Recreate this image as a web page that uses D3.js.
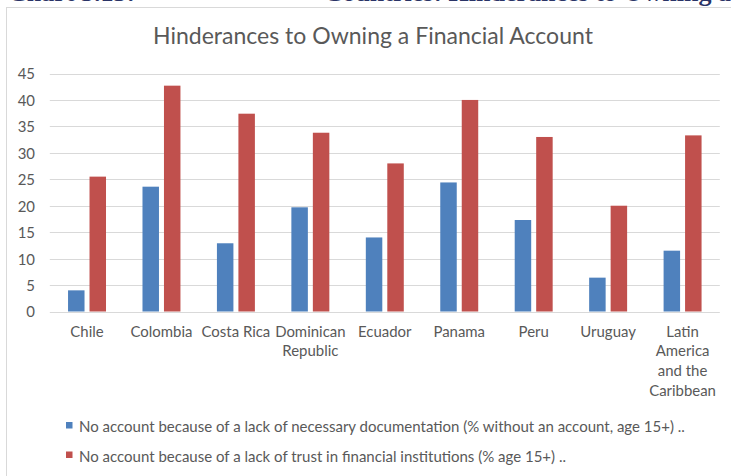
<!DOCTYPE html>
<html><head><meta charset="utf-8">
<script src="https://cdn.jsdelivr.net/npm/d3@7/dist/d3.min.js"></script>
<style>html,body{margin:0;padding:0;background:#fff;overflow:hidden}</style>
</head><body><svg id="c" width="731" height="476"></svg>
<script>
const categories = ["Chile","Colombia","Costa Rica","Dominican Republic","Ecuador","Panama","Peru","Uruguay","Latin America and the Caribbean"];
const tickLabels = [["Chile"],["Colombia"],["Costa Rica"],["Dominican","Republic"],["Ecuador"],["Panama"],["Peru"],["Uruguay"],["Latin","America","and the","Caribbean"]];
const seriesNames = [
  "No account because of a lack of necessary documentation (% without an account, age 15+) ..",
  "No account because of a lack of trust in financial institutions (% age 15+) .."
];
const documentation = [4.0, 23.6, 12.9, 19.7, 14.0, 24.4, 17.3, 6.4, 11.5];
const trust = [25.5, 42.7, 37.4, 33.8, 28.0, 40.0, 33.0, 20.0, 33.3];
const yTicks = [0,5,10,15,20,25,30,35,40,45];
const colors = ["#4f81bd","#c0504d"];
const chartTitle = "Hinderances to Owning a Financial Account";
const headerA = "Chart 3.13:";
const headerB = "Countries: Hinderances to Owning a Financial Account";

const svg = d3.select("#c");
const FONT = "Lato, 'Open Sans', sans-serif";
const TXT = "#595959";

function fitSize(text, target, base) {
  const t = svg.append("text").attr("font-family", FONT).attr("font-size", base).text(text);
  const w = t.node().getComputedTextLength();
  t.remove();
  return base * target / w;
}

// cut-off header from the page above (only its lowest pixels show)
svg.append("text").attr("x", 8).attr("y", 1.2)
  .attr("font-family", "'Liberation Serif', serif").attr("font-weight", "bold")
  .attr("font-size", 26).attr("fill", "#2a3366").text(headerA);
const hB = svg.append("text").attr("x", 290).attr("y", 1.2)
  .attr("font-family", "'Liberation Serif', serif").attr("font-weight", "bold")
  .attr("font-size", 26).attr("fill", "#2a3366").text(headerB);
const gi = headerB.indexOf("Owning") + 4;
const gx = hB.node().getStartPositionOfChar(gi).x;
hB.attr("x", 290 + (684 - gx));

// chart area border
svg.append("rect").attr("x", 6.5).attr("y", 7.5).attr("width", 800).attr("height", 600)
  .attr("fill", "none").attr("stroke", "#d9d9d9");

const x0 = 49.8, x1 = 719.8, yBottom = 311.5, yTop = 73.5;
const x = d3.scaleBand().domain(categories).range([x0, x1]).paddingInner(0.49).paddingOuter(0.245);
const xs = d3.scaleBand().domain([0,1]).range([0, x.bandwidth()]).paddingInner(0.2326).paddingOuter(0);
const y = d3.scaleLinear().domain([0, 45]).range([yBottom, yTop]);

// title
const titleSize = fitSize(chartTitle, 440, 22);
svg.append("text").attr("x", 373).attr("y", 44).attr("text-anchor", "middle")
  .attr("font-family", FONT).attr("font-size", titleSize).attr("fill", TXT).text(chartTitle);

// gridlines
svg.append("g").selectAll("line").data(yTicks).join("line")
  .attr("x1", x0).attr("x2", x1)
  .attr("y1", d => Math.round(y(d)) + 0.5).attr("y2", d => Math.round(y(d)) + 0.5)
  .attr("stroke", "#d9d9d9").attr("stroke-width", 1);

// y axis labels
const labSize = fitSize("Colombia", 62, 16);
const yAxis = d3.axisLeft(y).tickValues(yTicks).tickSize(0).tickPadding(0);
const gy = svg.append("g").attr("transform", "translate(35,0)").call(yAxis);
gy.select(".domain").remove();
gy.selectAll("text").attr("font-family", FONT).attr("font-size", labSize).attr("fill", TXT).attr("dy", "0.36em");

// bars
const series = [documentation, trust];
const gBars = svg.append("g");
series.forEach((vals, si) => {
  gBars.selectAll(null).data(vals).join("rect")
    .attr("x", (d, i) => x(categories[i]) + xs(si))
    .attr("width", xs.bandwidth())
    .attr("y", d => y(d))
    .attr("height", d => y(0) - y(d))
    .attr("fill", colors[si]);
});

// x labels
const gx2 = svg.append("g");
categories.forEach((c, i) => {
  const t = gx2.append("text").attr("text-anchor", "middle")
    .attr("font-family", FONT).attr("font-size", labSize).attr("fill", TXT);
  tickLabels[i].forEach((line, li) => {
    t.append("tspan").attr("x", x(c) + x.bandwidth() / 2).attr("y", 336.6 + li * 19.8).text(line);
  });
});

// legend
const legSize = fitSize(seriesNames[0], 606, 15);
const legY = [432, 461.5];
seriesNames.forEach((name, i) => {
  svg.append("rect").attr("x", 66).attr("y", legY[i] - 10).attr("width", 6.5).attr("height", 6.5).attr("fill", colors[i]);
  svg.append("text").attr("x", 79).attr("y", legY[i]).attr("font-family", FONT).attr("font-size", legSize)
    .attr("fill", TXT).text(name);
});
</script></body></html>
